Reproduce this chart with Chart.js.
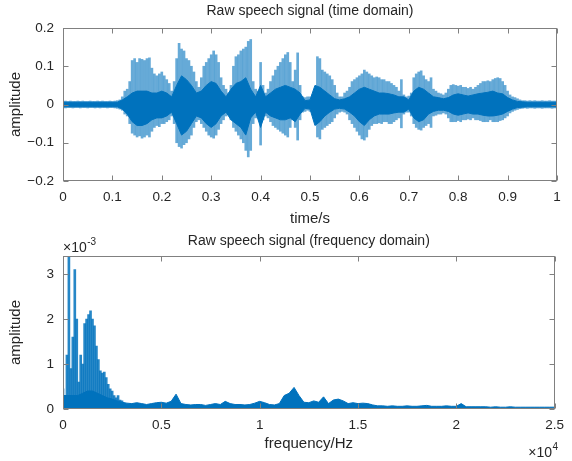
<!DOCTYPE html>
<html><head><meta charset="utf-8">
<script src="https://cdn.jsdelivr.net/npm/chart.js@4"></script>
<style>
html,body{margin:0;padding:0;background:#fff;}
#wrap{position:relative;width:572px;height:461px;}
canvas{position:absolute;left:0;}
#c1{top:0;} #c2{top:230px;}
</style></head><body>
<div id="wrap"><canvas id="c1" width="572" height="230"></canvas><canvas id="c2" width="572" height="231"></canvas></div>
<script>
// ---------- DATA ----------
// Time-domain signal, read off the picture as envelopes.
const PEAK_STEP = 0.005;   // s between peak-envelope samples
const CORE_STEP = 0.01;    // s between core-envelope samples
const peakHi = [
 0.008,0.009,0.008,0.009,0.008,0.008,0.009,0.008,0.009,0.008,
 0.008,0.009,0.008,0.008,0.009,0.008,0.009,0.008,0.008,0.009,
 0.008,0.009,0.010,0.012,0.020,0.035,0.040,0.060,0.115,0.120,
 0.110,0.120,0.118,0.115,0.120,0.122,0.095,0.080,0.075,0.080,
 0.085,0.075,0.065,0.055,0.035,0.060,0.120,0.160,0.145,0.140,
 0.120,0.115,0.100,0.085,0.060,0.045,0.070,0.100,0.110,0.120,
 0.130,0.140,0.130,0.110,0.070,0.050,0.040,0.030,0.050,0.100,
 0.125,0.130,0.140,0.145,0.150,0.165,0.170,0.060,0.040,0.035,
 0.110,0.050,0.030,0.040,0.060,0.075,0.090,0.100,0.110,0.120,
 0.130,0.136,0.110,0.060,0.090,0.135,0.050,0.020,0.018,0.020,
 0.020,0.025,0.040,0.125,0.120,0.090,0.085,0.080,0.075,0.065,
 0.050,0.030,0.020,0.020,0.030,0.035,0.045,0.060,0.065,0.070,
 0.075,0.080,0.090,0.085,0.080,0.075,0.070,0.072,0.070,0.065,
 0.065,0.060,0.060,0.055,0.050,0.045,0.035,0.065,0.025,0.020,
 0.022,0.030,0.070,0.080,0.085,0.088,0.075,0.065,0.060,0.070,
 0.040,0.035,0.030,0.028,0.025,0.030,0.040,0.050,0.052,0.050,
 0.048,0.050,0.045,0.045,0.042,0.045,0.040,0.045,0.050,0.055,
 0.060,0.060,0.062,0.060,0.065,0.068,0.070,0.068,0.060,0.050,
 0.035,0.025,0.020,0.018,0.015,0.012,0.010,0.010,0.009,0.010,
 0.009,0.010,0.009,0.009,0.010,0.009,0.009,0.010,0.009,0.009,0.009
];
const peakLo = [
 -0.008,-0.009,-0.008,-0.008,-0.009,-0.008,-0.008,-0.009,-0.008,-0.008,
 -0.009,-0.008,-0.008,-0.009,-0.008,-0.009,-0.008,-0.008,-0.009,-0.008,
 -0.008,-0.009,-0.010,-0.012,-0.015,-0.025,-0.030,-0.050,-0.075,-0.080,
 -0.085,-0.082,-0.088,-0.085,-0.080,-0.085,-0.070,-0.060,-0.055,-0.058,
 -0.050,-0.050,-0.045,-0.040,-0.030,-0.050,-0.100,-0.110,-0.114,-0.105,
 -0.100,-0.090,-0.080,-0.060,-0.045,-0.040,-0.050,-0.060,-0.070,-0.080,
 -0.085,-0.088,-0.080,-0.065,-0.050,-0.040,-0.030,-0.025,-0.040,-0.060,
 -0.070,-0.080,-0.090,-0.100,-0.120,-0.137,-0.120,-0.050,-0.035,-0.030,
 -0.106,-0.040,-0.030,-0.035,-0.045,-0.055,-0.060,-0.065,-0.070,-0.075,
 -0.080,-0.085,-0.060,-0.040,-0.060,-0.093,-0.040,-0.020,-0.018,-0.015,
 -0.018,-0.020,-0.035,-0.085,-0.090,-0.065,-0.060,-0.055,-0.050,-0.045,
 -0.035,-0.025,-0.020,-0.018,-0.020,-0.025,-0.040,-0.050,-0.060,-0.070,
 -0.080,-0.090,-0.093,-0.085,-0.065,-0.055,-0.050,-0.050,-0.048,-0.050,
 -0.045,-0.045,-0.050,-0.050,-0.045,-0.040,-0.035,-0.061,-0.025,-0.020,
 -0.020,-0.030,-0.050,-0.060,-0.065,-0.067,-0.060,-0.055,-0.050,-0.060,
 -0.030,-0.028,-0.025,-0.025,-0.022,-0.025,-0.035,-0.045,-0.045,-0.045,
 -0.042,-0.045,-0.040,-0.040,-0.038,-0.040,-0.035,-0.040,-0.040,-0.042,
 -0.045,-0.045,-0.045,-0.040,-0.045,-0.045,-0.045,-0.042,-0.040,-0.035,
 -0.030,-0.022,-0.018,-0.015,-0.013,-0.011,-0.010,-0.009,-0.010,-0.009,
 -0.009,-0.010,-0.009,-0.009,-0.010,-0.009,-0.009,-0.009,-0.010,-0.009,-0.009
];
const coreHi = [
 0.006,0.006,0.006,0.006,0.006,0.006,0.006,0.006,0.006,0.006,
 0.006,0.006,0.012,0.020,0.030,0.035,0.035,0.035,0.030,0.030,
 0.035,0.030,0.020,0.050,0.075,0.065,0.050,0.030,0.035,0.050,
 0.060,0.055,0.035,0.020,0.040,0.055,0.060,0.070,0.040,0.020,
 0.050,0.020,0.030,0.040,0.045,0.050,0.045,0.040,0.030,0.010,
 0.012,0.050,0.045,0.035,0.025,0.015,0.012,0.015,0.020,0.030,
 0.040,0.045,0.040,0.035,0.030,0.030,0.028,0.025,0.020,0.020,
 0.012,0.035,0.045,0.040,0.030,0.020,0.018,0.015,0.018,0.025,
 0.028,0.025,0.022,0.025,0.028,0.030,0.032,0.035,0.030,0.028,
 0.018,0.012,0.008,0.007,0.006,0.006,0.006,0.006,0.006,0.006,0.006
];
const coreLo = [
 -0.006,-0.006,-0.006,-0.006,-0.006,-0.006,-0.006,-0.006,-0.006,-0.006,
 -0.006,-0.006,-0.012,-0.025,-0.045,-0.055,-0.055,-0.050,-0.040,-0.035,
 -0.035,-0.030,-0.020,-0.050,-0.080,-0.070,-0.050,-0.030,-0.035,-0.050,
 -0.060,-0.050,-0.030,-0.020,-0.040,-0.050,-0.060,-0.080,-0.035,-0.020,
 -0.060,-0.020,-0.030,-0.035,-0.040,-0.040,-0.035,-0.045,-0.025,-0.010,
 -0.012,-0.055,-0.045,-0.030,-0.020,-0.012,-0.010,-0.012,-0.020,-0.030,
 -0.045,-0.055,-0.040,-0.030,-0.025,-0.025,-0.025,-0.022,-0.020,-0.020,
 -0.012,-0.035,-0.045,-0.040,-0.025,-0.018,-0.015,-0.015,-0.018,-0.025,
 -0.028,-0.025,-0.022,-0.025,-0.025,-0.028,-0.030,-0.030,-0.028,-0.025,
 -0.018,-0.012,-0.008,-0.007,-0.006,-0.006,-0.006,-0.006,-0.006,-0.006,-0.006
];
// Frequency-domain magnitude (units of 1e-3)
const SPEC_STEP = 100;   // Hz, low-frequency spikes 0..3000 Hz
const specHi = [0.45,0.30,1.20,3.38,0.90,1.60,3.10,2.00,0.60,1.20,1.00,1.90,2.00,2.10,2.18,2.00,1.85,1.40,1.10,0.85,0.80,0.82,0.70,0.55,0.45,0.40,0.30,0.25,0.30,0.20,0.18];
const FLOOR_STEP = 250;  // Hz, broadband level 0..25000 Hz
const specFloor = [
 0.30,0.30,0.30,0.30,0.35,0.40,0.40,0.35,0.30,0.25,
 0.22,0.18,0.15,0.13,0.12,0.14,0.12,0.10,0.12,0.14,
 0.15,0.13,0.17,0.33,0.12,0.10,0.09,0.10,0.10,0.08,
 0.10,0.12,0.10,0.17,0.12,0.10,0.10,0.09,0.10,0.13,
 0.17,0.14,0.10,0.09,0.12,0.30,0.35,0.48,0.30,0.15,
 0.14,0.18,0.15,0.27,0.12,0.20,0.22,0.18,0.12,0.14,
 0.12,0.13,0.12,0.09,0.07,0.07,0.06,0.07,0.06,0.06,
 0.07,0.06,0.06,0.07,0.08,0.06,0.06,0.06,0.07,0.06,
 0.06,0.12,0.05,0.05,0.05,0.05,0.05,0.04,0.05,0.04,
 0.04,0.05,0.04,0.04,0.04,0.04,0.04,0.04,0.04,0.04,0.04
];
const timeTicks = [0,0.1,0.2,0.3,0.4,0.5,0.6,0.7,0.8,0.9,1];
const ampTicks = [-0.2,-0.1,0,0.1,0.2];
const freqTicks = [0,5000,10000,15000,20000,25000];
const specTicks = [0,1,2,3];

// ---------- STYLE ----------
const BLUE = '#0072BD';
const TXT = '#262626';
const AXC = '#808080';
const FAM = "'Liberation Sans', Arial, Helvetica, sans-serif";
Chart.defaults.font.family = FAM;
Chart.defaults.color = TXT;

const minus = s => String(s).replace('-', '\u2212');

const matlabAxes = {
  id: 'matlabAxes',
  afterDraw(chart, args, opts) {
    const {ctx, chartArea: a, scales} = chart;
    ctx.save();
    ctx.strokeStyle = AXC; ctx.lineWidth = 1;
    const L = Math.round(a.left) + 0.5, R = Math.round(a.right) - 0.5;
    const T = Math.round(a.top) + 0.5, B = Math.round(a.bottom) - 0.5;
    ctx.strokeRect(L, T, R - L, B - T);
    ctx.beginPath();
    scales.x.ticks.forEach(t => {
      const px = Math.round(scales.x.getPixelForValue(t.value)) + 0.5;
      ctx.moveTo(px, B); ctx.lineTo(px, B - 5);
      ctx.moveTo(px, T); ctx.lineTo(px, T + 5);
    });
    scales.y.ticks.forEach(t => {
      const py = Math.round(scales.y.getPixelForValue(t.value)) + 0.5;
      ctx.moveTo(L, py); ctx.lineTo(L + 5, py);
      ctx.moveTo(R, py); ctx.lineTo(R - 5, py);
    });
    ctx.stroke();
    ctx.fillStyle = TXT;
    ctx.textAlign = 'center'; ctx.textBaseline = 'middle';
    ctx.font = '14px ' + FAM;
    ctx.fillText(opts.title, (a.left + a.right) / 2, opts.titleY);
    if (opts.expTL) {
      ctx.textAlign = 'left'; ctx.textBaseline = 'alphabetic';
      ctx.font = '14px ' + FAM;
      const base = '\u00d710';
      ctx.fillText(base, a.left, opts.expTL.y);
      const w = ctx.measureText(base).width;
      ctx.font = '10px ' + FAM;
      ctx.fillText(opts.expTL.p, a.left + w + 0.5, opts.expTL.y - 7);
    }
    if (opts.expBR) {
      ctx.textAlign = 'left'; ctx.textBaseline = 'alphabetic';
      ctx.font = '10px ' + FAM;
      const pw = ctx.measureText(opts.expBR.p).width;
      ctx.font = '14px ' + FAM;
      const base = '\u00d710';
      const w = ctx.measureText(base).width;
      const x0 = a.right + 3 - pw - w;
      ctx.fillText(base, x0, opts.expBR.y);
      ctx.font = '10px ' + FAM;
      ctx.fillText(opts.expBR.p, x0 + w + 0.5, opts.expBR.y - 7);
    }
    ctx.restore();
  }
};

function axisCommon(ticksArr, fmt, stepSize, padding) {
  return {
    grid: {display: false, drawTicks: false},
    border: {display: false},
    ticks: {stepSize, padding, autoSkip: false, maxRotation: 0, font: {size: 13.5}, color: TXT,
      callback: v => fmt(v)},
    afterBuildTicks: s => { s.ticks = ticksArr.map(v => ({value: v})); }
  };
}

// ---------- CHART 1: time domain ----------
const peakData = peakHi.map((h, i) => ({x: +(i * PEAK_STEP).toFixed(3), y: [peakLo[i], h]}));
const coreHiData = coreHi.map((v, i) => ({x: +(i * CORE_STEP).toFixed(2), y: v}));
const coreLoData = coreLo.map((v, i) => ({x: +(i * CORE_STEP).toFixed(2), y: v}));

new Chart(document.getElementById('c1'), {
  type: 'bar',
  data: {datasets: [
    {type: 'line', data: coreHiData, borderColor: BLUE, backgroundColor: BLUE, borderWidth: 1, pointRadius: 0, fill: '+1', tension: 0, order: 1},
    {type: 'line', data: coreLoData, borderColor: BLUE, borderWidth: 1, pointRadius: 0, fill: false, tension: 0, order: 1},
    {type: 'bar', data: peakData, backgroundColor: 'rgba(0,114,189,0.6)', borderWidth: 0, barThickness: 2, order: 2}
  ]},
  options: {
    responsive: false, animation: false, events: [],
    layout: {padding: {top: 28, right: 15, left: 0, bottom: 0}},
    plugins: {legend: {display: false}, tooltip: {enabled: false},
      matlabAxes: {title: 'Raw speech signal (time domain)', titleY: 11}},
    scales: {
      x: Object.assign(axisCommon(timeTicks, v => String(Math.round(v * 10) / 10), 0.1, 8), {
        type: 'linear', min: 0, max: 1, offset: false,
        title: {display: true, text: 'time/s', font: {size: 15}, color: TXT, padding: {top: 0, bottom: 2}},
        afterFit: s => { s.height = 49; }
      }),
      y: Object.assign(axisCommon(ampTicks, v => minus(Math.round(v * 10) / 10), 0.1, 9), {
        type: 'linear', min: -0.2, max: 0.2,
        title: {display: true, text: 'amplitude', font: {size: 15}, color: TXT, padding: {top: 7, bottom: 0}},
        afterFit: s => { s.width = 63; }
      })
    }
  },
  plugins: [matlabAxes]
});

// ---------- CHART 2: frequency domain ----------
const specData = specHi.map((h, i) => ({x: i * SPEC_STEP, y: [0, h]}));
const floorData = specFloor.map((v, i) => ({x: i * FLOOR_STEP, y: v}));

new Chart(document.getElementById('c2'), {
  type: 'bar',
  data: {datasets: [
    {type: 'line', data: floorData, borderColor: BLUE, backgroundColor: BLUE, borderWidth: 1, pointRadius: 0, fill: 'origin', tension: 0, order: 1},
    {type: 'bar', data: specData, backgroundColor: 'rgba(0,114,189,0.85)', borderWidth: 0, barThickness: 2, order: 2}
  ]},
  options: {
    responsive: false, animation: false, events: [],
    layout: {padding: {top: 26, right: 15, left: 0, bottom: 0}},
    plugins: {legend: {display: false}, tooltip: {enabled: false},
      matlabAxes: {title: 'Raw speech signal (frequency domain)', titleY: 11,
        expTL: {p: '-3', y: 22}, expBR: {p: '4', y: 227}}},
    scales: {
      x: Object.assign(axisCommon(freqTicks, v => String(v / 10000), 5000, 8), {
        type: 'linear', min: 0, max: 25000, offset: false,
        title: {display: true, text: 'frequency/Hz', font: {size: 15}, color: TXT, padding: {top: 0, bottom: 8}},
        afterFit: s => { s.height = 52; }
      }),
      y: Object.assign(axisCommon(specTicks, v => String(v), 1, 9), {
        type: 'linear', min: 0, max: 3.4,
        title: {display: true, text: 'amplitude', font: {size: 15}, color: TXT, padding: {top: 7, bottom: 0}},
        afterFit: s => { s.width = 63; }
      })
    }
  },
  plugins: [matlabAxes]
});
</script>
</body></html>
